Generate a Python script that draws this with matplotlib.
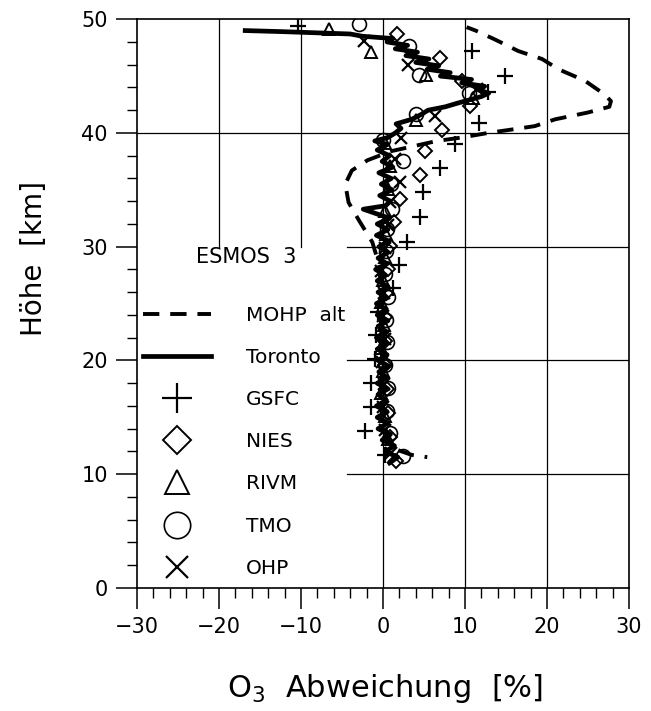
import matplotlib
matplotlib.use('Agg')
import matplotlib.pyplot as plt
from matplotlib.lines import Line2D
import matplotlib.ticker as ticker
import numpy as np

# MOHP alt (dashed) profile
mohp_h = [11.5, 11.7, 12.2, 12.8, 14.0, 16.0, 18.0, 20.0, 22.0, 24.0, 26.0, 28.0,
          30.4, 32.4, 33.9, 35.5, 36.7, 37.6, 38.4, 38.8, 39.3, 39.6, 40.0, 40.3,
          40.6, 41.2, 41.8, 42.3, 42.8, 43.4, 44.6, 45.6, 46.5, 47.2, 48.2, 49.0, 49.3]
mohp_x = [5.4, 3.5, 1.5, 0.8, 0.3, 0.0, -0.2, -0.1, -0.2, -0.1, -0.2, -0.3,
          -1.3, -3.0, -4.2, -4.6, -3.8, -1.9, 1.0, 3.5, 6.6, 9.6, 12.8, 15.7,
          18.5, 21.0, 25.0, 27.6, 27.8, 27.0, 24.6, 21.4, 19.4, 16.5, 13.7, 11.3, 10.2]

# Toronto (solid) profile
tor_h = [11.0, 11.5, 12.0, 12.5, 13.0, 13.5, 14.0, 14.5, 15.0, 15.5, 16.0, 16.5,
         17.0, 17.5, 18.0, 18.5, 19.0, 19.5, 20.0, 20.5, 21.0, 21.5, 22.0, 22.5,
         23.0, 23.5, 24.0, 24.5, 25.0, 25.5, 26.0, 26.5, 27.0, 27.5, 28.0, 28.5,
         29.0, 29.5, 30.0, 30.5, 31.0, 31.5, 32.0, 32.5, 33.0, 33.3, 33.6, 34.0,
         34.5, 35.0, 35.5, 36.0, 36.5, 37.0, 37.5, 38.0, 38.5, 39.0, 39.3, 39.6,
         40.0, 40.4, 40.8, 41.2, 41.6, 42.0, 42.3, 42.6, 42.9, 43.2, 43.5, 43.8,
         44.1, 44.4, 44.7, 45.0, 45.3, 45.6, 45.9, 46.2, 46.5, 46.8, 47.1, 47.4,
         47.7, 48.0, 48.3, 48.5, 48.7, 48.8, 48.9, 49.0]
tor_x = [0.8, 1.8, 0.3, 1.4, -0.1, 0.9, -0.6, 0.6, -0.7, 0.5, -0.8, 0.4,
         -0.6, 0.6, -0.7, 0.5, -0.5, 0.7, -0.6, 0.5, -0.7, 0.4, -0.8, 0.5,
         -0.6, 0.6, -0.7, 0.4, -0.8, 0.5, -0.6, 0.6, -0.7, 0.3, -0.9, 0.5,
         -0.6, 0.6, -0.5, 0.7, -0.8, 0.6, -0.7, 0.8, -1.2, -2.4, 0.3, 0.9,
         -0.4, 1.1, -0.2, 1.0, -0.5, 1.2, -0.1, 0.8, -0.7, 0.5, -1.0, 0.6,
         1.5, 2.2, 1.6, 3.5, 4.6, 5.5, 7.6, 9.0, 10.5, 12.0, 12.9, 11.6,
         12.4, 9.6, 10.8, 7.0, 8.2, 5.4, 6.8, 4.0, 5.6, 2.8, 4.2, 1.5,
         3.0, 0.5, 1.2, -2.5, -4.0, -8.0, -12.0, -16.8]

gsfc_h = [11.7, 13.8, 15.9, 18.0, 20.1, 22.2, 24.3, 26.4, 28.4, 30.4, 32.6, 34.8,
          36.9, 39.0, 40.9, 43.6, 45.0, 47.2, 49.4]
gsfc_x = [0.3, -2.2, -1.5, -1.5, -1.0, -0.8, -0.6, 1.2, 1.9, 2.9, 4.5, 4.9,
          7.0, 8.8, 11.7, 12.8, 14.9, 10.9, -10.4]

nies_h = [11.2, 13.3, 15.4, 17.5, 19.6, 21.7, 23.8, 25.9, 28.0, 30.1, 32.2, 34.2,
          36.3, 38.4, 40.3, 42.4, 44.6, 46.6, 48.7]
nies_x = [1.6, 0.8, 0.6, 0.5, 0.3, 0.2, 0.2, 0.4, 0.6, 0.9, 1.3, 2.1,
          4.5, 5.1, 7.2, 10.6, 9.6, 7.0, 1.7]

rivm_h = [13.1, 15.1, 17.1, 19.1, 21.1, 23.1, 25.1, 27.1, 29.1, 31.1, 33.1, 35.1,
          37.1, 39.1, 41.1, 43.1, 45.1, 47.1, 49.1]
rivm_x = [0.6, 0.2, -0.2, 0.0, -0.3, 0.1, -0.2, 0.0, 0.2, 0.4, 0.3, 0.6,
          0.8, 0.3, 4.0, 11.0, 5.2, -1.5, -6.6]

tmo_h = [11.6, 13.6, 15.6, 17.6, 19.6, 21.6, 23.6, 25.6, 27.6, 29.6, 31.6, 33.3,
         35.5, 37.5, 39.4, 41.7, 43.5, 45.1, 47.6, 49.6]
tmo_x = [2.5, 0.8, 0.5, 0.6, 0.3, 0.5, 0.4, 0.6, 0.2, 0.4, 0.5, 1.1,
         1.0, 2.5, 0.0, 4.0, 10.5, 4.4, 3.2, -2.9]

ohp_h = [11.9, 13.9, 15.9, 17.9, 19.9, 21.9, 23.9, 25.9, 27.9, 29.9, 31.9, 33.9,
         35.7, 37.7, 39.6, 41.5, 43.9, 46.0, 48.1]
ohp_x = [1.0, 0.2, 0.0, 0.1, -0.1, 0.2, 0.0, 0.1, -0.2, 0.3, 0.6, 0.9,
         2.1, 1.5, 2.2, 6.3, 11.5, 3.0, -2.3]

x_ticks = [-30, -20, -10, 0, 10, 20, 30]
y_ticks = [0, 10, 20, 30, 40, 50]

fig = plt.figure(figsize=(6.51, 7.11), dpi=100)
ax = fig.add_axes([0.2104, 0.173, 0.7558, 0.800])
ax.set_xlim(-30, 30)
ax.set_ylim(0, 50)

# grid, blanked out behind the key in the lower left
gkw = dict(color='k', lw=0.9, zorder=1)
for gx in [-20, -10]:
    ax.plot([gx, gx], [30, 50], **gkw)
for gx in [0, 10, 20]:
    ax.plot([gx, gx], [0, 50], **gkw)
ax.plot([-30, 30], [40, 40], **gkw)
for gy in [10, 20, 30]:
    ax.plot([-4.4, 30], [gy, gy], **gkw)

ax.plot(mohp_x, mohp_h, color='k', lw=2.8, ls=(3.5, (4.2, 2.8)), zorder=3)
l_tor, = ax.plot(tor_x, tor_h, color='k', lw=3.4, zorder=3)

mk = dict(ls='none', color='k', mfc='none', zorder=4)
l_gsfc, = ax.plot(gsfc_x, gsfc_h, marker='+', ms=11, mew=1.6, **mk)
l_nies, = ax.plot(nies_x, nies_h, marker='D', ms=7.5, mew=1.4, **mk)
l_rivm, = ax.plot(rivm_x, rivm_h, marker='^', ms=9, mew=1.4, **mk)
l_tmo, = ax.plot(tmo_x, tmo_h, marker='o', ms=10, mew=1.2, **mk)
l_ohp, = ax.plot(ohp_x, ohp_h, marker='x', ms=8, mew=1.6, **mk)

# key handle for the dashed line without the dash offset used on the profile
l_mohp = Line2D([], [], color='k', lw=2.8, ls=(0, (4.2, 2.8)))

leg = ax.legend([l_mohp, l_tor, l_gsfc, l_nies, l_rivm, l_tmo, l_ohp],
                ['MOHP  alt', 'Toronto', 'GSFC', 'NIES', 'RIVM', 'TMO', 'OHP'],
                loc='lower left', bbox_to_anchor=(0.012, 0.018), frameon=False,
                borderaxespad=0, borderpad=0, fontsize=14.5, handlelength=3.4,
                handletextpad=1.7, labelspacing=1.15, markerscale=1.9)
leg.set_zorder(5)
ax.text(-16.7, 29.1, 'ESMOS  3', fontsize=15, ha='center', va='center')

ax.xaxis.set_major_locator(ticker.FixedLocator(x_ticks))
ax.yaxis.set_major_locator(ticker.FixedLocator(y_ticks))
ax.xaxis.set_minor_locator(ticker.MultipleLocator(2))
ax.yaxis.set_minor_locator(ticker.MultipleLocator(2))
ax.tick_params(which='major', direction='out', length=15, width=1.1, labelsize=15, pad=6)
ax.tick_params(which='minor', direction='out', length=7, width=1.0)
for s in ax.spines.values():
    s.set_linewidth(1.2)

ax.set_xlabel('O$_3$  Abweichung  [%]', fontsize=22)
ax.set_ylabel('Höhe  [km]', fontsize=20)
ax.xaxis.set_label_coords(0.504, -0.148)
ax.yaxis.set_label_coords(-0.18, 0.58)

fig.savefig('out.png', dpi=100)
